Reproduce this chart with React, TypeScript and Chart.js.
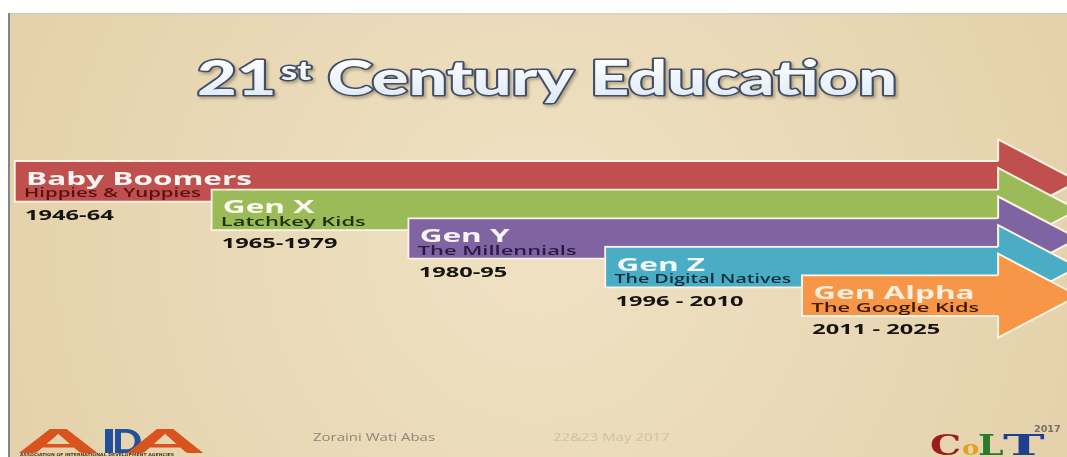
import { useEffect, useRef } from "react";
import { Chart, registerables } from "chart.js";

Chart.register(...registerables);

// ---- data ----
const generations = ["Baby Boomers", "Gen X", "Gen Y", "Gen Z", "Gen Alpha"];
const nicknames = ["Hippies & Yuppies", "Latchkey Kids", "The Millennials", "The Digital Natives", "The Google Kids"];
const yearRanges = ["1946-64", "1965-1979", "1980-95", "1996 - 2010", "2011 - 2025"];
const stepStart = [0, 1, 2, 3, 4];
const stepEnd = [5, 5, 5, 5, 5];
const titleMain = "21";
const titleSup = "st";
const titleRest = " Century Education";
const author = "Zoraini Wati Abas";
const eventDate = "22&23 May 2017";

// ---- styles ----
const barColors = ["#c0504d", "#9bbb59", "#8064a2", "#4bacc6", "#f79646"];
const nameColors = ["#fbf6f4", "#fbfbf2", "#f8f4fb", "#f3fafc", "#fdeedd"];
const nickColors = ["#5a1111", "#22300c", "#2b1846", "#0e2e3b", "#3a1a04"];
const OUTLINE = "#fbf4e6";
const SX = 1.75; // horizontal stretch of the slide
const W = 1067;
const H = 457;

function stretchedText(
  ctx: CanvasRenderingContext2D,
  text: string,
  x: number,
  y: number,
  font: string,
  color: string,
  sx: number,
  maxW?: number
) {
  ctx.save();
  ctx.font = font;
  ctx.fillStyle = color;
  ctx.textBaseline = "alphabetic";
  ctx.textAlign = "left";
  ctx.translate(x, y);
  ctx.scale(sx, 1);
  if (maxW !== undefined) ctx.fillText(text, 0, 0, maxW / sx);
  else ctx.fillText(text, 0, 0);
  ctx.restore();
}

const slidePlugin = {
  id: "slide",
  beforeDraw(chart: any) {
    const ctx: CanvasRenderingContext2D = chart.ctx;
    ctx.save();
    ctx.fillStyle = "#ffffff";
    ctx.fillRect(0, 0, W, H);
    const g = ctx.createRadialGradient(540, 250, 60, 540, 250, 650);
    g.addColorStop(0, "#eee0c1");
    g.addColorStop(1, "#e3cfa7");
    ctx.fillStyle = g;
    ctx.fillRect(10, 13, W - 10, H - 13);
    ctx.fillStyle = "rgba(190,200,205,0.35)";
    ctx.fillRect(10, 13, W - 10, 2);
    ctx.fillStyle = "#7d8791";
    ctx.fillRect(8, 13, 2, H - 13);
    ctx.restore();
  },
  afterDraw(chart: any) {
    const ctx: CanvasRenderingContext2D = chart.ctx;
    // ---- title ----
    ctx.save();
    const big = "900 48px Lato";
    const small = "900 26px Lato";
    ctx.font = big;
    const w21 = ctx.measureText(titleMain).width;
    const wRest = ctx.measureText(titleRest).width;
    ctx.font = small;
    const wSt = ctx.measureText(titleSup).width;
    const total = w21 + 3 + wSt + wRest;
    const sc = 700 / total;
    ctx.translate(197, 95);
    ctx.scale(sc, 1);
    const pieces: [string, string, number, number][] = [
      [titleMain, big, 0, 0],
      [titleSup, small, w21 + 3, -15],
      [titleRest, big, w21 + 3 + wSt, 0],
    ];
    const grad = ctx.createLinearGradient(0, -36, 0, 8);
    grad.addColorStop(0, "#ffffff");
    grad.addColorStop(1, "#dce8f4");
    for (const [t, f, x, y] of pieces) {
      ctx.font = f;
      ctx.lineJoin = "round";
      ctx.shadowColor = "rgba(60,50,30,0.35)";
      ctx.shadowBlur = 3;
      ctx.shadowOffsetX = 2;
      ctx.shadowOffsetY = 2;
      ctx.strokeStyle = "#3f4d68";
      ctx.lineWidth = 3;
      ctx.strokeText(t, x, y);
      ctx.shadowColor = "transparent";
      ctx.fillStyle = grad;
      ctx.fillText(t, x, y);
    }
    ctx.restore();

    // ---- footer ----
    stretchedText(ctx, author, 313, 441, "10px 'Open Sans'", "#8e8778", 1.5);
    stretchedText(ctx, eventDate, 553, 441, "10px 'Open Sans'", "rgba(205,190,160,0.9)", 1.5);

    // AIDA logo (as text)
    const aida: [string, string, number, number][] = [
      ["A", "#d9531e", 20, 3.3],
      ["I", "#22509c", 101, 1.6],
      ["D", "#22509c", 112, 1.2],
      ["A", "#d9531e", 128, 3.2],
    ];
    for (const [t, c, x, s] of aida) {
      stretchedText(ctx, t, x, 453, "900 33px Lato", c, s);
    }
    stretchedText(ctx, "ASSOCIATION OF INTERNATIONAL DEVELOPMENT AGENCIES", 20, 456, "bold 4px 'DejaVu Sans'", "#4a3a2a", 1.15);

    // CoLT logo (as text)
    const colt: [string, string, string, number, number][] = [
      ["C", "#9b1c1c", "900 28px 'DejaVu Serif'", 930, 1.4],
      ["o", "#e2a21e", "900 20px 'DejaVu Serif'", 962, 1.3],
      ["L", "#2a7a2e", "900 28px 'DejaVu Serif'", 978, 1.3],
      ["T", "#1f3f8f", "900 28px 'DejaVu Serif'", 1003, 2.0],
    ];
    for (const [t, c, f, x, s] of colt) {
      stretchedText(ctx, t, x, 455, f, c, s);
    }
    stretchedText(ctx, "2017", 1034, 432, "bold 8px 'DejaVu Sans'", "#777066", 1.2);
  },
};

const arrowPlugin = {
  id: "arrows",
  afterDatasetDraw(chart: any, args: any) {
    const i = args.index;
    const el = args.meta.data[i];
    if (!el) return;
    const ctx: CanvasRenderingContext2D = chart.ctx;
    const xs = chart.scales.x;
    const step = xs.getPixelForValue(1) - xs.getPixelForValue(0);
    const cy = el.y;
    const half = el.height / 2;
    const bx = el.x;
    const base = el.base;
    const AH = 42;
    const AL = 80;
    ctx.save();
    ctx.beginPath();
    ctx.moveTo(bx - 2, cy - half + 2);
    ctx.lineTo(bx, cy - half + 2);
    ctx.lineTo(bx, cy - AH);
    ctx.lineTo(bx + AL, cy);
    ctx.lineTo(bx, cy + AH);
    ctx.lineTo(bx, cy + half - 2);
    ctx.lineTo(bx - 2, cy + half - 2);
    ctx.closePath();
    ctx.fillStyle = barColors[i];
    ctx.fill();
    ctx.beginPath();
    ctx.moveTo(bx, cy - half + 1);
    ctx.lineTo(bx, cy - AH);
    ctx.lineTo(bx + AL, cy);
    ctx.lineTo(bx, cy + AH);
    ctx.lineTo(bx, cy + half - 1);
    ctx.strokeStyle = OUTLINE;
    ctx.lineWidth = 2;
    ctx.lineJoin = "miter";
    ctx.stroke();
    ctx.restore();

    // labels
    stretchedText(ctx, generations[i], base + 12, cy + 3.5, "bold 18px 'Open Sans'", nameColors[i], SX);
    stretchedText(ctx, nicknames[i], base + 10, cy + 16, "600 12.5px 'Open Sans'", nickColors[i], SX, step - 20);
    stretchedText(ctx, yearRanges[i], base + 11, cy + 38.5, "bold 13.5px 'Open Sans'", "#161411", SX);
  },
};

export default function App() {
  const ref = useRef<HTMLCanvasElement>(null);
  useEffect(() => {
    const canvas = ref.current;
    if (!canvas) return;
    const datasets = generations.map((g, i) => ({
      label: g,
      data: generations.map((_, j) => (j === i ? [stepStart[i], stepEnd[i]] : null)),
      backgroundColor: barColors[i],
      borderColor: OUTLINE,
      borderWidth: 2,
      borderSkipped: "right",
      barThickness: 42,
      grouped: false,
      order: generations.length - i,
      clip: false,
    }));
    const chart = new Chart(canvas, {
      type: "bar",
      data: { labels: generations, datasets: datasets as any },
      options: {
        indexAxis: "y",
        responsive: false,
        animation: false,
        devicePixelRatio: 1,
        layout: { padding: { left: 14, right: 0, top: 167, bottom: 147 } },
        plugins: { legend: { display: false }, tooltip: { enabled: false } },
        scales: {
          x: { type: "linear", min: 0, max: 5.35, display: false },
          y: { type: "category", display: false },
        },
      },
      plugins: [slidePlugin, arrowPlugin],
    });
    return () => chart.destroy();
  }, []);
  return (
    <div style={{ position: "fixed", left: 0, top: 0, width: W, height: H }}>
      <canvas ref={ref} width={W} height={H} style={{ width: W, height: H, display: "block" }} />
    </div>
  );
}
